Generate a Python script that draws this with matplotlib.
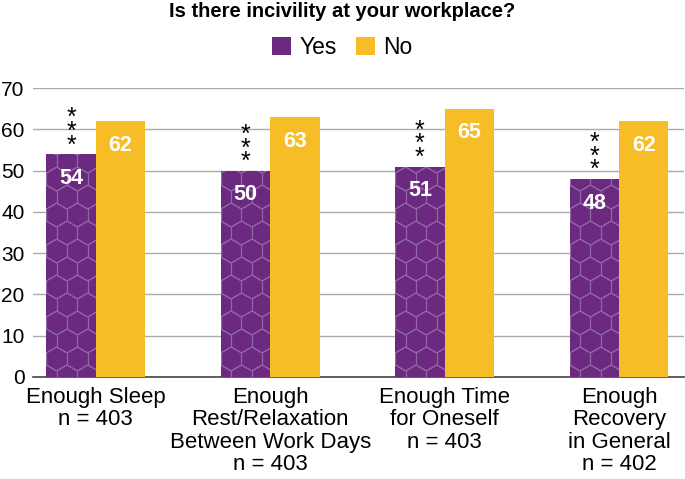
import numpy as np
import matplotlib.pyplot as plt
from matplotlib.collections import LineCollection

plt.rcParams['font.family'] = ['Liberation Sans', 'DejaVu Sans']

categories = ["Enough Sleep\nn = 403",
              "Enough\nRest/Relaxation\nBetween Work Days\nn = 403",
              "Enough Time\nfor Oneself\nn = 403",
              "Enough\nRecovery\nin General\nn = 402"]
yes_vals = [54, 50, 51, 48]
no_vals = [62, 63, 65, 62]
yticks = [0, 10, 20, 30, 40, 50, 60, 70]

purple = '#6b2a7f'
yellow = '#f6bd27'

fig = plt.figure(figsize=(6.85, 4.79), dpi=100)
ax = fig.add_axes([0.048, 0.213, 0.950, 0.603])

x = np.arange(len(categories))
w = 0.283
b1 = ax.bar(x - w / 2, yes_vals, w, color=purple, linewidth=0, label='Yes', zorder=3)
b2 = ax.bar(x + w / 2, no_vals, w, color=yellow, linewidth=0, label='No', zorder=3)

ax.set_xlim(-0.36, 3.37)
ax.set_ylim(0, 70)

# honeycomb texture on the purple bars (pixel sized, clipped to each bar)
px_x = 1.0 / 175.0
px_y = 70.0 / 289.0
r = 12.0
segs = []
dx = np.sqrt(3) * r
ang = np.deg2rad(np.arange(30, 391, 60))
for row in range(-1, 20):
    for col in range(-1, 4):
        cx = col * dx + (row % 2) * dx / 2
        cy = row * 1.5 * r
        hx = cx + r * np.cos(ang)
        hy = cy + r * np.sin(ang)
        for k in range(6):
            segs.append([(hx[k], hy[k]), (hx[k + 1], hy[k + 1])])
for bar in b1:
    x0 = bar.get_x()
    lines = [[(x0 + p[0] * px_x, p[1] * px_y) for p in s] for s in segs]
    lc = LineCollection(lines, colors='#9267a6', linewidths=0.8, zorder=3.5)
    ax.add_collection(lc)
    lc.set_clip_path(bar)

for i in range(len(x)):
    ax.text(x[i] - w / 2, yes_vals[i] - 3.3, str(yes_vals[i]), ha='center', va='top',
            color='white', fontsize=15.5, fontweight='bold', zorder=4)
    ax.text(x[i] + w / 2, no_vals[i] - 3.3, str(no_vals[i]), ha='center', va='top',
            color='white', fontsize=15.5, fontweight='bold', zorder=4)
    ax.text(x[i] - w / 2, yes_vals[i] - 0.8, "*\n*\n*", ha='center', va='bottom',
            fontsize=18, linespacing=0.45, zorder=4)

ax.set_yticks(yticks)
ax.tick_params(axis='y', length=0, labelsize=15, pad=6)
ax.tick_params(axis='x', length=0, labelsize=16, pad=7)
ax.set_xticks(x)
ax.set_xticklabels(categories, linespacing=1.1)
ax.yaxis.grid(True, color='#aaaaaa', linewidth=1, zorder=0)
for s in ['top', 'right', 'left']:
    ax.spines[s].set_visible(False)
ax.spines['bottom'].set_color('#444444')
ax.spines['bottom'].set_linewidth(1.2)

fig.text(0.5, 0.995, "Is there incivility at your workplace?", ha='center', va='top',
         fontsize=14.5, fontweight='bold')
fig.legend(handles=[b1, b2], loc='center', bbox_to_anchor=(0.5, 0.901), ncol=2,
           frameon=False, fontsize=16.5, handlelength=0.83, handleheight=0.83,
           handletextpad=0.35, columnspacing=0.85)

fig.savefig('out.png', dpi=100)
